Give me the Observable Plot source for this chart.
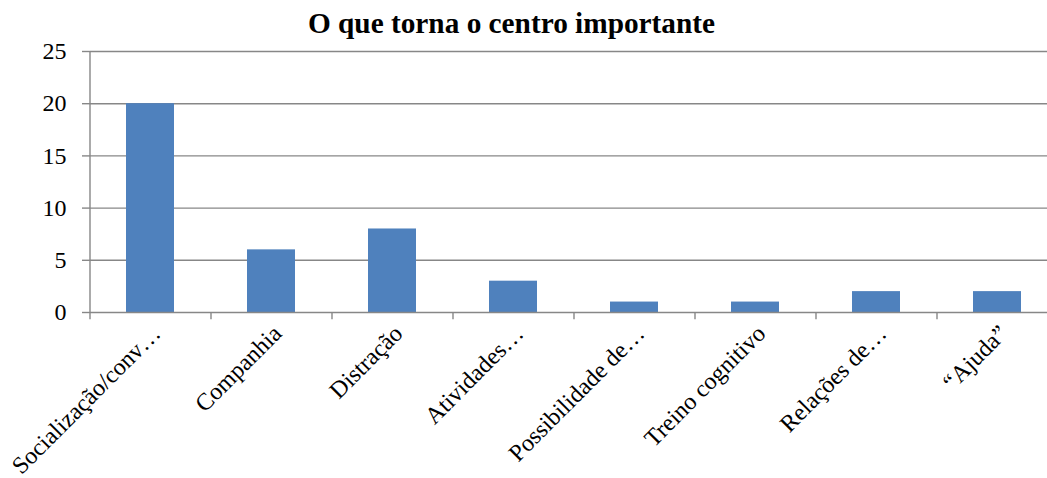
<!DOCTYPE html>
<html>
<head>
<meta charset="utf-8">
<script src="https://cdn.jsdelivr.net/npm/d3@7"></script>
<script src="https://cdn.jsdelivr.net/npm/@observablehq/plot@0.6"></script>
<style>
  html, body { margin: 0; padding: 0; background: #fff; }
  #title { height: 30px; width: 1047px; box-sizing: border-box; padding-top: 9px; padding-right: 24px;
    font-family: "Liberation Serif", "Times New Roman", serif; font-weight: bold; font-size: 29.3px; line-height: 29px;
    text-align: center; color: #000; white-space: nowrap; overflow: visible; }
  svg { display: block; }
</style>
</head>
<body>
<div id="title">O que torna o centro importante</div>
<div id="chart"></div>
<script>
const categories = ["Socialização/conv…", "Companhia", "Distração", "Atividades…", "Possibilidade de…", "Treino cognitivo", "Relações de…", "“Ajuda”"];
const values = [20, 6, 8, 3, 1, 1, 2, 2];
const yTicks = [0, 5, 10, 15, 20, 25];

const data = categories.map((c, i) => ({category: c, value: values[i]}));
const gray = "#878787";

const chart = Plot.plot({
  width: 1047,
  height: 448,
  marginTop: 21,
  marginBottom: 166,
  marginLeft: 90,
  marginRight: 0,
  style: {fontFamily: "'Liberation Serif', 'Times New Roman', serif", fontSize: "24px", color: "#000", background: "#fff"},
  x: {domain: categories, range: [90, 1058], paddingInner: 0.6, paddingOuter: 0.3, label: null},
  y: {domain: [0, 25], label: null},
  marks: [
    Plot.gridY(yTicks.filter(d => d > 0), {stroke: gray, strokeOpacity: 1, strokeWidth: 1.4}),
    Plot.barY(data, {x: "category", y: "value", fill: "#4F81BD"}),
    Plot.ruleY([0], {stroke: gray, strokeWidth: 1.4}),
    Plot.ruleX(categories, {x: d => d, dx: -60.5, y1: 0, y2: -0.7, stroke: gray, strokeWidth: 1.4}),
    Plot.ruleX([categories[0]], {x: d => d, dx: -60.5, y1: 0, y2: 25, stroke: gray, strokeWidth: 1.4}),
    Plot.axisY(yTicks, {tickSize: 8, tickPadding: 16, stroke: gray, strokeWidth: 1.4, fill: "#000", label: null}),
    Plot.axisX({tickSize: 0, tickPadding: 17, dx: 6, tickRotate: -45, fill: "#000", fontSize: 24, label: null})
  ]
});
document.getElementById("chart").appendChild(chart);
</script>
</body>
</html>
